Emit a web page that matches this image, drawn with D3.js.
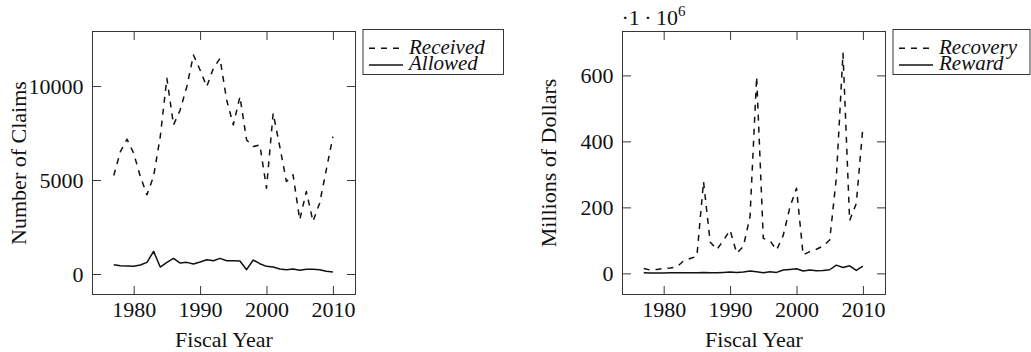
<!DOCTYPE html>
<html>
<head>
<meta charset="utf-8">
<script src="https://cdn.jsdelivr.net/npm/d3@7"></script>
<style>
  body { margin: 0; background: #fff; }
  text { font-family: "Liberation Serif", "DejaVu Serif", serif; fill: #111; }
</style>
</head>
<body>
<svg id="chart" width="1031" height="352"></svg>
<script>
// Fiscal years on the x axis
var years = [1977, 1978, 1979, 1980, 1981, 1982, 1983, 1984, 1985, 1986,
             1987, 1988, 1989, 1990, 1991, 1992, 1993, 1994, 1995, 1996,
             1997, 1998, 1999, 2000, 2001, 2002, 2003, 2004, 2005, 2006,
             2007, 2008, 2009, 2010];

// Left panel: number of claims
var received = [5240, 6514, 7170, 6425, 5186, 4213, 5200, 7300, 10408, 7930,
                8726, 9965, 11647, 10850, 9965, 10939, 11470, 9257, 7930, 9434,
                7133, 6780, 6868, 4567, 8549, 6780, 4920, 5275, 2885, 4390,
                2797, 3770, 5540, 7310];
var allowed = [495, 442, 425, 407, 478, 620, 1204, 372, 620, 832,
               584, 620, 531, 637, 761, 708, 832, 708, 708, 690,
               230, 743, 549, 407, 372, 265, 230, 265, 195, 248,
               248, 230, 142, 106];

// Right panel: millions of dollars
var recovery = [15, 10, 12, 15, 16, 20, 38, 45, 52, 278,
                95, 72, 100, 131, 61, 82, 172, 596, 106, 99,
                71, 115, 200, 258, 56, 66, 73, 83, 101, 290,
                667, 160, 212, 444];
var reward = [2, 1.5, 1.5, 1.5, 2, 2, 2, 2, 2, 3,
              2, 2, 3, 4, 3, 4, 7, 5, 2, 5,
              3, 10, 12, 14, 7, 10, 8, 9, 11, 25,
              18, 23, 9, 22];

// Tick values
var yearTicks = [1980, 1990, 2000, 2010];
var claimTicks = [0, 5000, 10000];
var dollarTicks = [0, 200, 400, 600];

var svg = d3.select("#chart");
var plotTop = 31.5, plotBottom = 294.5, plotW = 263, tickLen = 8.5, fs = 22;

var panels = [
  {
    left: 92.5, yDomain: [-1090, 12900], yTicks: claimTicks,
    ylabel: "Number of Claims", ylabelX: 26,
    series: [{name: "Received", values: received, dash: "6,6"},
             {name: "Allowed", values: allowed, dash: null}],
    legendW: 140.5
  },
  {
    left: 622.5, yDomain: [-64, 733], yTicks: dollarTicks,
    ylabel: "Millions of Dollars", ylabelX: 556,
    series: [{name: "Recovery", values: recovery, dash: "6,6"},
             {name: "Reward", values: reward, dash: null}],
    legendW: 137,
    multiplier: true
  }
];

panels.forEach(function(p) {
  var x = d3.scaleLinear().domain([1973.8, 2013.4]).range([p.left, p.left + plotW]);
  var y = d3.scaleLinear().domain(p.yDomain).range([plotBottom, plotTop]);
  var g = svg.append("g");

  // Axes: labels on bottom/left, mirrored inward ticks on top/right
  function styleAxis(sel) {
    sel.select(".domain").remove();
    sel.selectAll(".tick line").attr("stroke", "#222").attr("stroke-width", 0.9);
    sel.selectAll(".tick text").attr("font-size", fs)
      .attr("font-family", "Liberation Serif, DejaVu Serif, serif").attr("fill", "#111");
  }
  g.append("g").attr("transform", `translate(0,${plotBottom})`)
    .call(d3.axisBottom(x).tickValues(yearTicks).tickFormat(d3.format("d"))
      .tickSize(-tickLen).tickPadding(7))
    .call(styleAxis);
  g.append("g").attr("transform", `translate(0,${plotTop})`)
    .call(d3.axisTop(x).tickValues(yearTicks).tickFormat("").tickSize(-tickLen))
    .call(styleAxis);
  g.append("g").attr("transform", `translate(${p.left},0)`)
    .call(d3.axisLeft(y).tickValues(p.yTicks).tickFormat(d3.format("d"))
      .tickSize(-tickLen).tickPadding(9))
    .call(styleAxis);
  g.append("g").attr("transform", `translate(${p.left + plotW},0)`)
    .call(d3.axisRight(y).tickValues(p.yTicks).tickFormat("").tickSize(-tickLen))
    .call(styleAxis);

  // Frame
  g.append("rect")
    .attr("x", p.left).attr("y", plotTop)
    .attr("width", plotW).attr("height", plotBottom - plotTop)
    .attr("fill", "none").attr("stroke", "#222").attr("stroke-width", 0.9);

  // Lines
  var line = d3.line().x(function(d, i) { return x(years[i]); }).y(function(d) { return y(d); });
  p.series.forEach(function(s) {
    g.append("path")
      .datum(s.values)
      .attr("d", line)
      .attr("fill", "none")
      .attr("stroke", "#111")
      .attr("stroke-width", 1.5)
      .attr("stroke-linejoin", "round")
      .attr("stroke-dasharray", s.dash);
  });

  // Axis titles
  g.append("text")
    .attr("x", p.left + plotW / 2).attr("y", 347)
    .attr("text-anchor", "middle").attr("font-size", fs)
    .text("Fiscal Year");
  g.append("text")
    .attr("transform", `translate(${p.ylabelX},${(plotTop + plotBottom) / 2}) rotate(-90)`)
    .attr("text-anchor", "middle").attr("font-size", fs)
    .text(p.ylabel);

  if (p.multiplier) {
    var m = g.append("text").attr("x", p.left - 1).attr("y", 25).attr("font-size", fs);
    m.append("tspan").text("\u00b71\u2009\u00b7\u200910");
    m.append("tspan").attr("dy", -9).attr("font-size", 15).text("6");
  }

  // Legend
  var lx = p.left + plotW + 7.5, ly = 29.5;
  var leg = g.append("g").attr("transform", `translate(${lx},${ly})`);
  leg.append("rect")
    .attr("width", p.legendW).attr("height", 45)
    .attr("fill", "#fff").attr("stroke", "#222").attr("stroke-width", 0.9);
  p.series.forEach(function(s, i) {
    var cy = 18.8 + i * 16.7;
    leg.append("line")
      .attr("x1", 6).attr("x2", 40).attr("y1", cy).attr("y2", cy)
      .attr("stroke", "#111").attr("stroke-width", 1.5)
      .attr("stroke-dasharray", s.dash);
    leg.append("text")
      .attr("x", 46).attr("y", cy + 5.3)
      .attr("font-size", 21).attr("font-style", "italic")
      .text(s.name);
  });
});
</script>
</body>
</html>
